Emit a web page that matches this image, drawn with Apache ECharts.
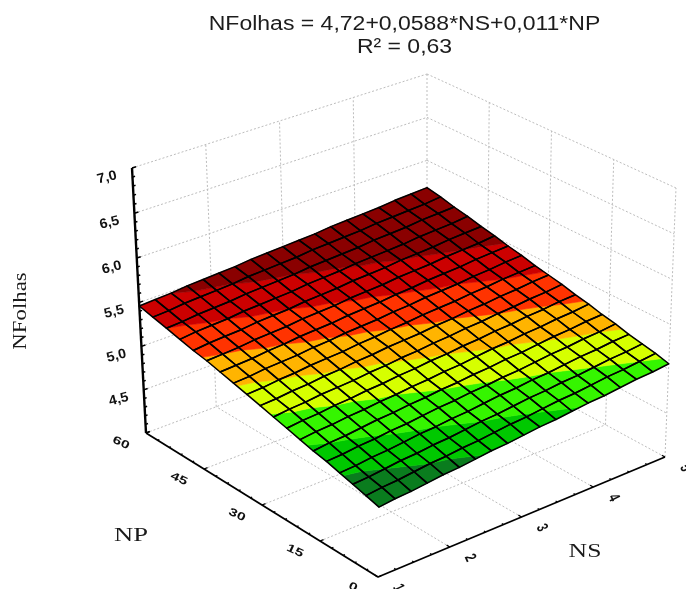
<!DOCTYPE html>
<html>
<head>
<meta charset="utf-8">
<style>html,body{margin:0;padding:0;background:#fff}#c{width:686px;height:589px}</style>
<script src="https://cdn.jsdelivr.net/npm/echarts@6/dist/echarts.min.js"></script>
</head>
<body>
<div id="c"></div>
<script>
const titleLines = ['NFolhas = 4,72+0,0588*NS+0,011*NP', 'R² = 0,63'];
const zTicks = [4.0, 4.5, 5.0, 5.5, 6.0, 6.5, 7.0];
const zTickLabels = ['', '4,5', '5,0', '5,5', '6,0', '6,5', '7,0'];
const npTicks = [0, 15, 30, 45, 60];
const npTickLabels = ['0', '15', '30', '45', '60'];
const nsTicks = [1, 2, 3, 4, 5];
const nsTickLabels = ['1', '2', '3', '4', '5'];
const bandLevels = [4.87, 4.97, 5.08, 5.18, 5.28, 5.38, 5.48];
const bandColors = ['#0a7c1e', '#00c800', '#35f500', '#d6ff00', '#ffb400', '#ff3300', '#cc0000', '#8a0000'];
/* surface heights: rows run NP 0 -> 60, columns NS 1 -> 5 */
const surfaceRows = [
[4.76,4.78,4.79,4.81,4.83,4.84,4.86,4.88,4.89,4.91,4.93,4.94,4.96,4.98,4.99,5.01,5.03,5.04,5.06],
[4.80,4.82,4.83,4.85,4.87,4.88,4.90,4.91,4.93,4.95,4.96,4.98,5.00,5.01,5.03,5.05,5.06,5.08,5.10],
[4.84,4.85,4.87,4.89,4.90,4.92,4.93,4.95,4.97,4.98,5.00,5.02,5.03,5.05,5.06,5.08,5.10,5.11,5.13],
[4.88,4.89,4.91,4.92,4.94,4.96,4.97,4.99,5.00,5.02,5.04,5.05,5.07,5.08,5.10,5.12,5.13,5.15,5.16],
[4.92,4.93,4.95,4.96,4.98,4.99,5.01,5.03,5.04,5.06,5.07,5.09,5.10,5.12,5.14,5.15,5.17,5.18,5.20],
[4.95,4.97,4.98,5.00,5.02,5.03,5.05,5.06,5.08,5.09,5.11,5.12,5.14,5.15,5.17,5.19,5.20,5.22,5.23],
[4.99,5.01,5.02,5.04,5.05,5.07,5.08,5.10,5.11,5.13,5.14,5.16,5.18,5.19,5.21,5.22,5.24,5.25,5.27],
[5.03,5.05,5.06,5.08,5.09,5.11,5.12,5.14,5.15,5.17,5.18,5.20,5.21,5.23,5.24,5.26,5.27,5.29,5.30],
[5.07,5.09,5.10,5.12,5.13,5.14,5.16,5.17,5.19,5.20,5.22,5.23,5.25,5.26,5.28,5.29,5.31,5.32,5.34],
[5.11,5.12,5.14,5.15,5.17,5.18,5.20,5.21,5.23,5.24,5.25,5.27,5.28,5.30,5.31,5.33,5.34,5.36,5.37],
[5.15,5.16,5.18,5.19,5.21,5.22,5.23,5.25,5.26,5.28,5.29,5.31,5.32,5.33,5.35,5.36,5.38,5.39,5.40],
[5.19,5.20,5.22,5.23,5.24,5.26,5.27,5.29,5.30,5.31,5.33,5.34,5.36,5.37,5.38,5.40,5.41,5.43,5.44],
[5.23,5.24,5.25,5.27,5.28,5.30,5.31,5.32,5.34,5.35,5.36,5.38,5.39,5.41,5.42,5.43,5.45,5.46,5.47],
[5.27,5.28,5.29,5.31,5.32,5.33,5.35,5.36,5.37,5.39,5.40,5.41,5.43,5.44,5.45,5.47,5.48,5.49,5.51],
[5.30,5.32,5.33,5.34,5.36,5.37,5.38,5.40,5.41,5.42,5.44,5.45,5.46,5.48,5.49,5.50,5.52,5.53,5.54],
[5.34,5.36,5.37,5.38,5.40,5.41,5.42,5.43,5.45,5.46,5.47,5.49,5.50,5.51,5.52,5.54,5.55,5.56,5.58],
[5.38,5.39,5.41,5.42,5.43,5.45,5.46,5.47,5.48,5.50,5.51,5.52,5.53,5.55,5.56,5.57,5.59,5.60,5.61],
[5.42,5.43,5.45,5.46,5.47,5.48,5.50,5.51,5.52,5.53,5.55,5.56,5.57,5.58,5.60,5.61,5.62,5.63,5.65],
[5.46,5.47,5.48,5.50,5.51,5.52,5.53,5.55,5.56,5.57,5.58,5.59,5.61,5.62,5.63,5.64,5.66,5.67,5.68]
];

/* the view: where the eight corners of the 3D box land on the page */
const VIEW = {
  floor: {f: [378, 577], l: [146, 433], r: [665, 457], b: [427, 328]},
  roof:  {f: [382, 295], l: [132, 168], r: [676, 188], b: [427, 74]},
  zWarp: 1.03
};
const nsRange = [1, 5], npRange = [0, 60], zRange = [4, 7];

function project(ns, np, z) {
  const u = (ns - nsRange[0]) / (nsRange[1] - nsRange[0]);
  const v = (np - npRange[0]) / (npRange[1] - npRange[0]);
  const t0 = (z - zRange[0]) / (zRange[1] - zRange[0]);
  const t = t0 / (t0 + (1 - t0) * VIEW.zWarp);
  const mix = (o) => [0, 1].map(k =>
    (o.f[k] * (1 - u) + o.r[k] * u) * (1 - v) + (o.l[k] * (1 - u) + o.b[k] * u) * v);
  const a = mix(VIEW.floor), b = mix(VIEW.roof);
  return [a[0] + (b[0] - a[0]) * t, a[1] + (b[1] - a[1]) * t];
}

/* guide lines on the walls and the floor */
const guideSegs = [];
const nsLo = nsRange[0], nsHi = nsRange[1], npLo = npRange[0], npHi = npRange[1], zLo = zRange[0], zHi = zRange[1];
zTicks.forEach(z => {
  guideSegs.push([[nsLo, npHi, z], [nsHi, npHi, z]]);
  guideSegs.push([[nsHi, npHi, z], [nsHi, npLo, z]]);
});
nsTicks.forEach(ns => {
  if (ns > nsLo) guideSegs.push([[ns, npHi, zLo], [ns, npHi, zHi]]);
  if (ns > nsLo && ns < nsHi) guideSegs.push([[ns, npLo, zLo], [ns, npHi, zLo]]);
});
npTicks.forEach(np => {
  if (np < npHi) guideSegs.push([[nsHi, np, zLo], [nsHi, np, zHi]]);
  if (np > npLo && np < npHi) guideSegs.push([[nsLo, np, zLo], [nsHi, np, zLo]]);
});

/* axis lines and tick marks */
const axisSegs = [
  {w: 2.4, s: [nsLo, npHi, zLo], e: [nsLo, npHi, zHi]},
  {w: 1.8, s: [nsLo, npLo, zLo], e: [nsLo, npHi, zLo]},
  {w: 1.8, s: [nsLo, npLo, zLo], e: [nsHi, npLo, zLo]}
];
for (let k = 0; k <= 30; k++) {
  const z = zLo + k * 0.1, major = k % 5 === 0;
  axisSegs.push({w: 1.5, s: [nsLo, npHi, z], e: [nsLo + (major ? 0.055 : 0.035), npHi, z]});
}
for (let k = 0; k <= 20; k++) {
  const np = k * 3, major = k % 5 === 0;
  axisSegs.push({w: 1.3, s: [nsLo, np, zLo], e: [nsLo + (major ? 0.05 : 0.025), np, zLo]});
}
for (let k = 0; k <= 16; k++) {
  const ns = nsLo + k * 0.25, major = k % 4 === 0;
  axisSegs.push({w: 1.3, s: [ns, npLo, zLo], e: [ns, npLo + (major ? 0.8 : 0.45), zLo]});
}

const deg = Math.PI / 180;
const tickTexts = [];
zTicks.forEach((z, k) => { if (zTickLabels[k]) tickTexts.push({t: zTickLabels[k], at: [nsLo, npHi, z], dx: -25, dy: 9.5, rot: 14, sx: 1.1, sy: 1.05}); });
npTicks.forEach((np, k) => tickTexts.push({t: npTickLabels[k], at: [nsLo, np, zLo], dx: -25, dy: 10, rot: -25, sx: 1.2, sy: 0.85}));
nsTicks.forEach((ns, k) => tickTexts.push({t: nsTickLabels[k], at: [ns, npLo, zLo], dx: 20, dy: 11, rot: -65, sx: 0.85, sy: 1.25}));

const axisNames = [
  {t: 'NFolhas', x: 21, y: 311, rot: 90, sx: 1.2},
  {t: 'NP', x: 131, y: 536, rot: 0, sx: 1.4},
  {t: 'NS', x: 585, y: 552, rot: 0, sx: 1.35}
];
const titleRows = [
  {t: titleLines[0], x: 404.5, y: 24},
  {t: titleLines[1], x: 404.5, y: 47}
];

/* surface cells */
const cellList = [];
for (let i = 0; i < surfaceRows.length - 1; i++)
  for (let j = 0; j < surfaceRows[i].length - 1; j++) cellList.push([i, j]);

function clipAbove(poly, level, keepAbove) {
  const out = [];
  for (let n = 0; n < poly.length; n++) {
    const a = poly[n], b = poly[(n + 1) % poly.length];
    const ain = keepAbove ? a[2] >= level : a[2] <= level;
    const bin = keepAbove ? b[2] >= level : b[2] <= level;
    if (ain) out.push(a);
    if (ain !== bin) {
      const f = (level - a[2]) / (b[2] - a[2]);
      out.push([a[0] + (b[0] - a[0]) * f, a[1] + (b[1] - a[1]) * f, level]);
    }
  }
  return out;
}
const nCols = surfaceRows[0].length - 1, nRows = surfaceRows.length - 1;
function nodeToPage(p, api) {
  const ns = nsLo + (nsHi - nsLo) * p[0] / nCols;
  const np = npLo + (npHi - npLo) * p[1] / nRows;
  return api.coord(project(ns, np, p[2]));
}
function quadOf(d) {
  const [i, j] = d;
  return [
    [j, i, surfaceRows[i][j]], [j + 1, i, surfaceRows[i][j + 1]],
    [j + 1, i + 1, surfaceRows[i + 1][j + 1]], [j, i + 1, surfaceRows[i + 1][j]]
  ];
}

function plain(name, data, render, z) {
  return {type: 'custom', name, coordinateSystem: 'cartesian2d', silent: true, animation: false, clip: false, z,
    data: data.map((d, k) => [k, k]), encode: {x: 0, y: 1}, renderItem: (params, api) => render(data[params.dataIndex], api)};
}
function seg3(s, e, api, style) {
  const a = api.coord(project(s[0], s[1], s[2])), b = api.coord(project(e[0], e[1], e[2]));
  return {type: 'line', shape: {x1: a[0], y1: a[1], x2: b[0], y2: b[1]}, style};
}
const serif = '"Liberation Serif","DejaVu Serif",serif';
const sans = '"Liberation Sans",Arial,sans-serif';

const option = {
  backgroundColor: '#ffffff',
  animation: false,
  grid: {left: 0, right: 0, top: 0, bottom: 0},
  xAxis: {type: 'value', min: 0, max: 686, show: false},
  yAxis: {type: 'value', min: 0, max: 589, inverse: true, show: false},
  series: [
    plain('guides', guideSegs, (d, api) => seg3(d[0], d[1], api,
      {stroke: '#bdbdbd', lineWidth: 1, lineDash: [2, 2], fill: null}), 1),
    plain('surfaceFill', cellList, (d, api) => {
      const quad = quadOf(d);
      const children = [];
      bandColors.forEach((color, b) => {
        let poly = quad;
        if (b > 0) poly = clipAbove(poly, bandLevels[b - 1], true);
        if (poly.length && b < bandLevels.length) poly = clipAbove(poly, bandLevels[b], false);
        if (poly.length >= 3) children.push({
          type: 'polygon', shape: {points: poly.map(p => nodeToPage(p, api))},
          style: {fill: color, stroke: color, lineWidth: 0.6}
        });
      });
      return {type: 'group', children};
    }, 2),
    plain('surfaceMesh', cellList, (d, api) => ({
      type: 'polygon', shape: {points: quadOf(d).map(p => nodeToPage(p, api))},
      style: {fill: null, stroke: '#000', lineWidth: 1.5, lineJoin: 'round'}
    }), 3),
    plain('axes', axisSegs, (d, api) => seg3(d.s, d.e, api,
      {stroke: '#000', lineWidth: d.w, fill: null}), 4),
    plain('tickLabels', tickTexts, (d, api) => {
      const p = api.coord(project(d.at[0], d.at[1], d.at[2]));
      return {type: 'text', x: p[0] + d.dx, y: p[1] + d.dy, rotation: d.rot * deg, scaleX: d.sx, scaleY: d.sy,
        style: {text: d.t, fontFamily: sans, fontSize: 13, fontWeight: 'bold', fill: '#111', align: 'center', verticalAlign: 'middle'}};
    }, 5),
    plain('axisNames', axisNames, (d, api) => {
      const p = api.coord([d.x, d.y]);
      return {type: 'text', x: p[0], y: p[1], rotation: d.rot * deg, scaleX: d.sx, scaleY: 1,
        style: {text: d.t, fontFamily: serif, fontSize: 19, fill: '#1a1a1a', align: 'center', verticalAlign: 'middle'}};
    }, 5),
    plain('title', titleRows, (d, api) => {
      const p = api.coord([d.x, d.y]);
      return {type: 'text', x: p[0], y: p[1], scaleX: 1.15, scaleY: 1,
        style: {text: d.t, fontFamily: sans, fontSize: 20, fill: '#1c1c1c', align: 'center', verticalAlign: 'middle'}};
    }, 5)
  ]
};
const chart = echarts.init(document.getElementById('c'), null, {renderer: 'canvas'});
chart.setOption(option);
</script>
</body>
</html>
